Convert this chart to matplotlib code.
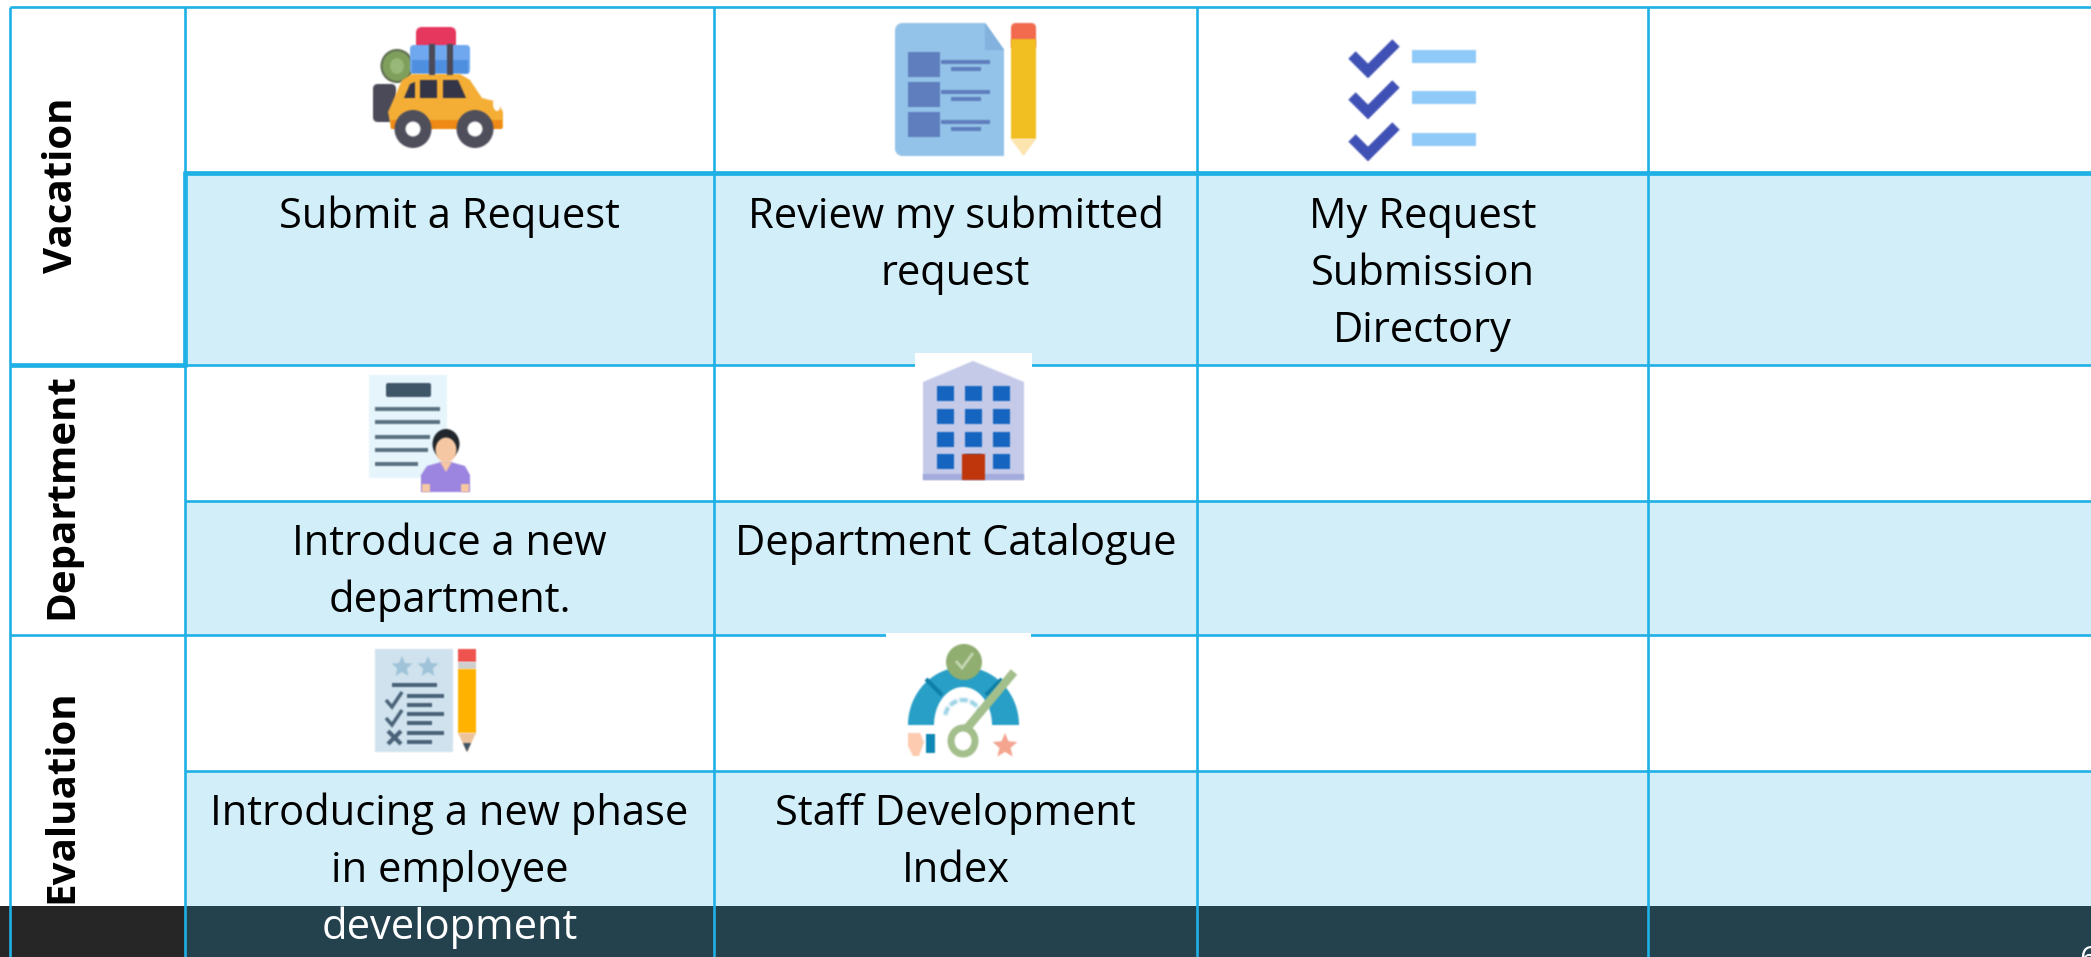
import matplotlib
matplotlib.use('Agg')
import numpy as np
import matplotlib.pyplot as plt
from matplotlib.patches import Rectangle, Ellipse, Polygon, FancyBboxPatch, Arc

# table content
row_names = ['Vacation', 'Department', 'Evaluation']
vacation_labels = ['Submit a Request', 'Review my submitted\nrequest', 'My Request\nSubmission\nDirectory', '']
department_labels = ['Introduce a new\ndepartment.', 'Department Catalogue', '', '']
evaluation_labels = ['Introducing a new phase\nin employee\ndevelopment', 'Staff Development\nIndex', '', '']
page_number = '6'

# layout in reference pixels
W, H = 2091, 957
col_x = [10, 185, 714, 1197, 1648]
row_y = [7, 173, 365, 501, 635, 771]
label_rows = [(173, 365), (501, 635), (771, 906)]
band_y = 906
first_baseline = [228, 555, 825]
name_y = [185, 496, 796]
line_gap = 57

LINE = '#1fb0e6'
CELL = '#d2eef9'
BAND = '#24414e'
BAND_L = '#262626'

fig = plt.figure(figsize=(W / 100, H / 100), dpi=100)
ax = fig.add_axes([0, 0, 1, 1])
ax.set_xlim(0, W)
ax.set_ylim(H, 0)
ax.axis('off')


def soften(im, dpi):
    # the icons in the reference are scaled-up bitmaps, so take the edges off a little
    pad = 3
    im = np.pad(im, ((pad, pad), (pad, pad), (0, 0)))
    alpha = im[..., 3:].copy()
    rgb = im[..., :3] * alpha
    for axis in (0, 1):
        rgb = (np.roll(rgb, 1, axis) + 2 * rgb + np.roll(rgb, -1, axis)) / 4
        alpha = (np.roll(alpha, 1, axis) + 2 * alpha + np.roll(alpha, -1, axis)) / 4
    rgb = np.divide(rgb, alpha, out=np.ones_like(rgb), where=alpha > 0)
    return np.dstack([rgb, alpha]), -pad, -pad


def rect(x0, y0, x1, y1, color, z=5):
    ax.add_patch(Rectangle((x0, y0), x1 - x0, y1 - y0, fc=color, ec='none', zorder=z))


def poly(pts, color, z=5):
    ax.add_patch(Polygon(pts, closed=True, fc=color, ec='none', zorder=z))


def ell(x, y, w, h, color, z=5, ec='none', lw=0):
    ax.add_patch(Ellipse((x, y), w, h, fc=color, ec=ec, lw=lw, zorder=z))


def stroke(xs, ys, color, lw, z=6):
    ax.plot(xs, ys, color=color, lw=lw, zorder=z, solid_capstyle='butt', solid_joinstyle='miter')


def star(x, y, r, color, z=6):
    ang = np.deg2rad(np.arange(10) * 36 - 90)
    rad = np.where(np.arange(10) % 2 == 0, r, r * 0.45)
    poly(np.c_[x + rad * np.cos(ang), y + rad * np.sin(ang)], color, z)


def round_box(x0, y0, x1, y1, color, pad=3, z=5):
    ax.add_patch(FancyBboxPatch((x0 + pad, y0 + pad), x1 - x0 - 2 * pad, y1 - y0 - 2 * pad,
                                boxstyle='round,pad=%d' % pad, fc=color, ec='none', zorder=z))


def car_icon():
    dark = '#4a4a58'
    ell(397, 66, 33, 34, '#5d6b50', 5)
    ell(397, 66, 29, 30, '#7f9f5c', 5)
    ell(397, 66, 14, 16, '#98b87a', 5)
    round_box(416, 27, 456, 50, '#e6375e', 6, 6)
    round_box(410, 45, 470, 74, '#6fa8ee', 4, 6)
    rect(412, 60, 468, 73, '#4f8fe0', 7)
    rect(429, 44, 435, 75, dark, 8)
    rect(447, 44, 453, 75, dark, 8)
    round_box(373, 84, 396, 122, dark, 5, 5)
    poly([(391, 128), (388, 112), (402, 80), (412, 74), (460, 74), (470, 80), (482, 98),
          (498, 102), (503, 112), (503, 128)], '#f4ae36', 6)
    rect(391, 120, 502, 129, '#ef8a17', 7)
    poly([(404, 98), (410, 84), (415, 82), (415, 98)], '#353548', 8)
    rect(420, 80, 437, 98, '#353548', 8)
    poly([(443, 80), (458, 80), (466, 98), (443, 98)], '#353548', 8)
    ell(497, 104, 8, 14, '#ffffff', 8)
    for x in [413, 475]:
        ell(x, 129, 37, 38, '#4f4f5c', 9)
        ell(x, 129, 15, 15, '#ffffff', 10)


def doc_icon():
    # outline as one shape, so the blur leaves no seam inside the sheet
    poly([(901, 23), (985, 23), (1004, 50), (1004, 156), (901, 156), (897, 154), (895, 150),
          (895, 29), (897, 25)], '#93c3e8')
    poly([(985, 23), (1004, 50), (985, 50)], '#82b2dd', 7)
    for y0 in [52, 82, 112]:
        rect(908, y0, 940, y0 + 25, '#5f7ebd', 7)
        rect(941, y0 + 8, 990, y0 + 12, '#5f7ebd', 7)
        rect(951, y0 + 15, 981, y0 + 19, '#5f7ebd', 7)
    round_box(1011, 23, 1036, 50, '#f26b4e', 5, 5)
    rect(1011, 39, 1036, 139, '#f1bf22', 6)
    poly([(1011, 139), (1036, 139), (1023.5, 156)], '#fde3ad', 6)


def check_icon():
    for dy, y0 in zip([0, 41, 83], [50, 91, 133]):
        stroke([1352, 1368, 1396], [55 + dy, 71 + dy, 43 + dy], '#3f51b5', 7.5)
        rect(1412, y0, 1476, y0 + 13, '#90caf9')


def person_icon():
    rect(369, 375, 447, 478, '#e6f5fc')
    round_box(386, 383, 431, 397, '#3f5568', 2, 6)
    for y, x1 in zip([409, 422, 437, 450, 464], [440, 440, 430, 428, 418]):
        rect(375, y - 2, x1, y + 2, '#5c7282', 6)
    poly([(421, 492), (421, 475), (427, 466), (441, 462), (451, 462), (465, 466), (470, 475), (470, 492)],
         '#9b85e0', 7)
    rect(422, 484, 430, 492, '#f6c7a3', 8)
    rect(461, 484, 469, 492, '#f6c7a3', 8)
    poly([(440, 462), (452, 462), (446, 472)], '#f6c7a3', 8)
    ell(446, 444, 27, 30, '#20262b', 7)
    ell(446, 450, 21, 25, '#f6c7a3', 8)


def building_icon():
    poly([(923, 480), (923, 382), (973, 361), (1024, 382), (1024, 480)], '#c5cae9')
    rect(923, 474, 1024, 480, '#a4acdc', 6)
    for x0 in [937, 965, 993]:
        for y0 in [386, 409, 432, 454]:
            rect(x0, y0, x0 + 17, y0 + 15, '#1565c0', 6)
    rect(962, 454, 985, 480, '#bf360c', 7)


def eval_icon():
    ink = '#4a6378'
    rect(375, 649, 453, 752, '#cfe2ee')
    star(402, 667, 11, '#9fc3d9')
    star(428, 667, 11, '#9fc3d9')
    rect(392, 683, 437, 687, ink, 6)
    for y in [696, 714, 733]:
        rect(407, y - 2, 444, y + 2, ink, 6)
        rect(407, y + 7, 432, y + 11, ink, 6)
    for y in [701, 719]:
        stroke([386, 392, 402], [y - 1, y + 6, y - 9], ink, 2.5)
    stroke([388, 401], [731, 744], ink, 3)
    stroke([401, 388], [731, 744], ink, 3)
    rect(458, 649, 476, 662, '#ef5350')
    rect(458, 662, 476, 669, '#cfcfcf')
    rect(458, 669, 476, 733, '#ffb300')
    poly([(458, 733), (476, 733), (467, 752)], '#eec39a')
    poly([(463, 743), (471, 743), (467, 752)], '#3f5568', 6)


def gauge_icon():
    # arch made from two half ellipses
    t = np.linspace(np.pi, 2 * np.pi, 60)
    outer = np.c_[963.5 + 55.5 * np.cos(t), 725 + 58 * np.sin(t)]
    inner = np.c_[963 + 29 * np.cos(t[::-1]), 725 + 38 * np.sin(t[::-1])]
    poly(np.r_[outer, inner], '#279fc6')
    stroke([926, 942], [679, 695], '#0f7fa8', 3)
    stroke([1002, 986], [679, 695], '#0f7fa8', 3)
    ax.add_patch(Arc((963, 718), 36, 36, theta1=190, theta2=350, ec='#9bd3e6', lw=3, ls=(0, (2, 0.6)), zorder=6))
    ell(964, 662, 36, 36, '#8fae70', 8)
    stroke([956, 962, 973], [661, 668, 653], '#c6d8b4', 2, 9)
    stroke([963, 1014], [733, 672], '#a3bf8b', 6, 7)
    ell(963, 741, 24, 26, '#ffffff', 7, ec='#a3bf8b', lw=5)
    poly([(908, 733), (920, 733), (924, 742), (919, 756), (913, 756), (908, 746)], '#fdcbb0')
    rect(925.5, 734, 935, 753, '#1088b5')
    star(1005, 746, 13, '#f4a48f')


# cell fills and band
rect(0, 0, W, H, '#ffffff', 0)
for y0, y1 in label_rows:
    rect(col_x[1], y0, W, y1, CELL, 1)
rect(0, band_y, col_x[1], H, BAND_L, 2)
rect(col_x[1], band_y, W, H, BAND, 2)

# grid lines
for x in col_x:
    ax.plot([x, x], [row_y[0], H], color=LINE, lw=1.9, zorder=3, solid_capstyle='butt')
for y in row_y:
    ax.plot([col_x[1] if y in (row_y[1], row_y[3], row_y[5]) else col_x[0], W], [y, y],
            color=LINE, lw=1.9, zorder=3, solid_capstyle='butt')
# heavier borders around the first block
ax.plot([col_x[1], W], [row_y[1], row_y[1]], color=LINE, lw=3.4, zorder=3, solid_capstyle='butt')
ax.plot([col_x[1], col_x[1]], [row_y[1] - 2, row_y[2] + 2], color=LINE, lw=3.4, zorder=3, solid_capstyle='butt')
ax.plot([col_x[0], col_x[1]], [row_y[2], row_y[2]], color=LINE, lw=3.4, zorder=3, solid_capstyle='butt')

# white boxes of the two pasted icons sit on top of the grid
rect(915, 353, 1032, 368, '#ffffff', 4)
rect(886, 633, 1031, 640, '#ffffff', 4)

car_icon()
doc_icon()
check_icon()
person_icon()
building_icon()
eval_icon()
gauge_icon()

for artist in ax.patches + ax.lines:
    if artist.get_zorder() >= 5:
        artist.set_agg_filter(soften)

# labels
font = ['Open Sans', 'DejaVu Sans']
all_labels = [vacation_labels, department_labels, evaluation_labels]
for labels, base in zip(all_labels, first_baseline):
    for c, label in enumerate(labels):
        xc = (col_x[c + 1] + (col_x[c + 2] if c + 2 < len(col_x) else W)) / 2
        for i, line in enumerate(label.split('\n')):
            y = base + i * line_gap
            ax.text(xc, y, line, ha='center', va='baseline', fontsize=30, family=font,
                    color='white' if y > band_y else 'black', zorder=12)

for name, y in zip(row_names, name_y):
    ax.text(62, y, name, rotation=90, ha='center', va='center', fontsize=29, family=font,
            fontweight='bold', color='black', zorder=12)

ax.text(2079, 968, page_number, ha='left', va='baseline', fontsize=22, family=font, color='white', zorder=12)

fig.savefig('out.png', dpi=100)
